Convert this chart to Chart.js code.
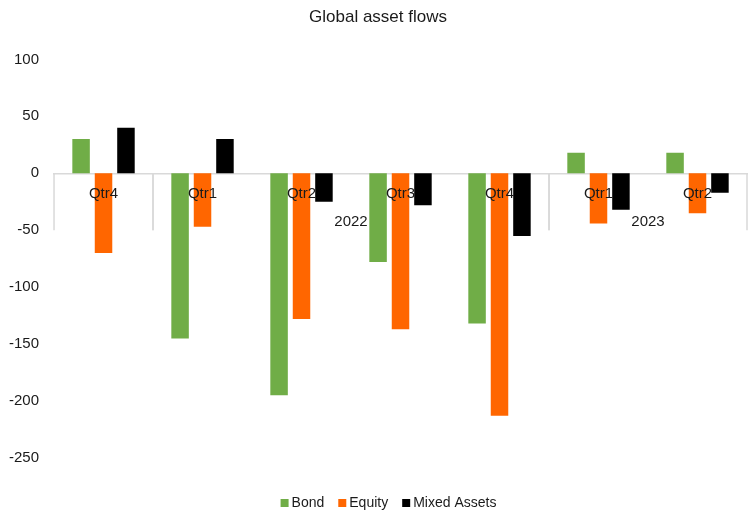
<!DOCTYPE html>
<html>
<head>
<meta charset="utf-8">
<title>Global asset flows</title>
<script src="https://cdn.jsdelivr.net/npm/chart.js"></script>
<style>
  html, body { margin: 0; padding: 0; background: #ffffff; }
</style>
</head>
<body>
<canvas id="flows-canvas" width="755" height="515"></canvas>
<script>
// Chart data
const quarters = ['Qtr4', 'Qtr1', 'Qtr2', 'Qtr3', 'Qtr4', 'Qtr1', 'Qtr2'];
const years = ['', '2022', '2022', '2022', '2022', '2023', '2023'];
const bond = [30, -145, -195, -78, -132, 18, 18];
const equity = [-70, -47, -128, -137, -213, -44, -35];
const mixedAssets = [40, 30, -25, -28, -55, -32, -17];
const yTicks = [100, 50, 0, -50, -100, -150, -200, -250];

const FONT = '"Liberation Sans", Arial, sans-serif';
const TEXT_COLOR = '#1a1a1a';
const LINE_COLOR = '#d9d9d9';

// Second level of the category axis: year labels and the group dividers
const yearAxis = {
  id: 'yearAxis',
  afterDatasetsDraw(chart) {
    const xScale = chart.scales.x;
    const axisY = chart.scales.y.getPixelForValue(0);
    const half = (xScale.getPixelForValue(1) - xScale.getPixelForValue(0)) / 2;
    const ctx = chart.ctx;

    ctx.save();
    ctx.strokeStyle = LINE_COLOR;
    ctx.lineWidth = 1.5;
    ctx.fillStyle = TEXT_COLOR;
    ctx.font = `15px ${FONT}`;
    ctx.textAlign = 'center';
    ctx.textBaseline = 'middle';

    let start = 0;
    for (let i = 1; i <= years.length; i++) {
      if (i === years.length || years[i] !== years[start]) {
        const left = xScale.getPixelForValue(start) - half;
        const right = xScale.getPixelForValue(i - 1) + half;
        [left, right].forEach(x => {
          ctx.beginPath();
          ctx.moveTo(x, axisY);
          ctx.lineTo(x, axisY + 57);
          ctx.stroke();
        });
        if (years[start]) {
          ctx.fillText(years[start], (left + right) / 2, axisY + 49);
        }
        start = i;
      }
    }
    ctx.restore();
  }
};

// Legend row under the plot
const legendRow = {
  id: 'legendRow',
  afterDraw(chart) {
    const ctx = chart.ctx;
    const area = chart.chartArea;
    const box = 8, gap = 3, spacing = 14;

    ctx.save();
    ctx.font = `14px ${FONT}`;
    const items = chart.data.datasets.map(ds => ({
      text: ds.label,
      color: ds.backgroundColor,
      width: ctx.measureText(ds.label).width
    }));
    const total = items.reduce((sum, it) => sum + box + gap + it.width, 0) + spacing * (items.length - 1);
    let x = (area.left + area.right) / 2 - 12 - total / 2;
    const y = area.bottom + 45;

    ctx.textAlign = 'left';
    ctx.textBaseline = 'middle';
    items.forEach(it => {
      ctx.fillStyle = it.color;
      ctx.fillRect(x, y - box / 2, box, box);
      x += box + gap;
      ctx.fillStyle = TEXT_COLOR;
      ctx.fillText(it.text, x, y);
      x += it.width + spacing;
    });
    ctx.restore();
  }
};

const ctx = document.getElementById('flows-canvas').getContext('2d');

new Chart(ctx, {
  type: 'bar',
  data: {
    labels: quarters,
    datasets: [
      { label: 'Bond', data: bond, backgroundColor: '#70ad47' },
      { label: 'Equity', data: equity, backgroundColor: '#ff6600' },
      { label: 'Mixed Assets', data: mixedAssets, backgroundColor: '#000000' }
    ]
  },
  options: {
    responsive: false,
    animation: false,
    categoryPercentage: 0.68,
    barPercentage: 0.78,
    layout: {
      padding: { left: 9, right: 8, top: 0, bottom: 57 }
    },
    plugins: {
      legend: { display: false },
      tooltip: { enabled: false },
      title: {
        display: true,
        text: 'Global asset flows',
        color: TEXT_COLOR,
        font: { family: FONT, size: 17, weight: 'normal' },
        padding: { top: 7, bottom: 32 }
      }
    },
    scales: {
      x: {
        position: { y: 0 },
        grid: { display: false, drawTicks: false },
        border: { display: true, color: LINE_COLOR, width: 1.5 },
        ticks: {
          z: 1,  // quarter labels sit on top of the bars, as in the original
          color: TEXT_COLOR,
          padding: 12,
          maxRotation: 0,
          autoSkip: false,
          font: { family: FONT, size: 15 }
        }
      },
      y: {
        min: Math.min(...yTicks),
        max: Math.max(...yTicks),
        grid: { display: false, drawTicks: false },
        border: { display: false },
        afterFit(scale) {
          scale.width -= 15;
        },
        ticks: {
          stepSize: yTicks[0] - yTicks[1],
          color: TEXT_COLOR,
          padding: 15,
          font: { family: FONT, size: 15 }
        }
      }
    }
  },
  plugins: [yearAxis, legendRow]
});
</script>
</body>
</html>
